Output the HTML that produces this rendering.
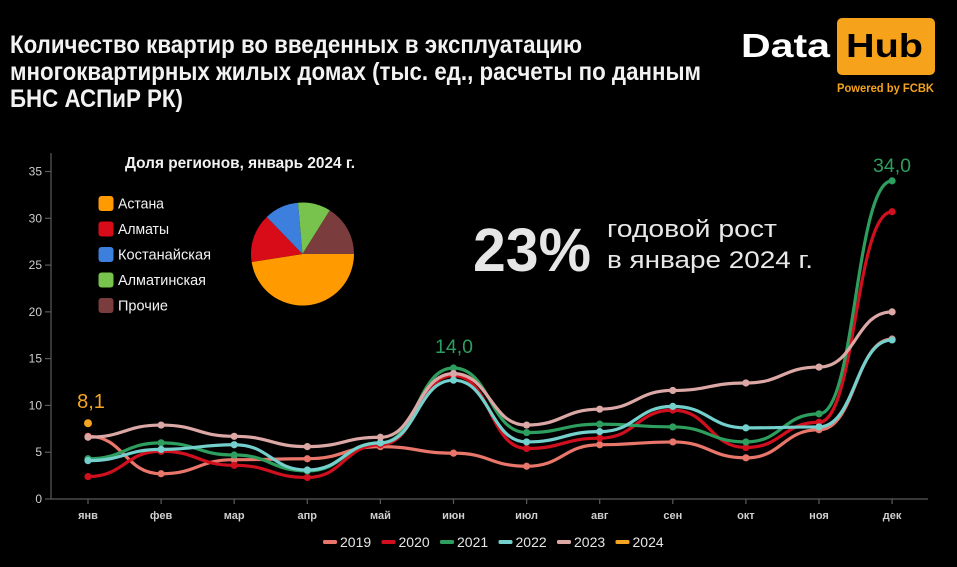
<!DOCTYPE html>
<html>
<head>
<meta charset="utf-8">
<style>
html,body{margin:0;padding:0;background:#000;}
svg{display:block;}
text{font-family:"Liberation Sans","DejaVu Sans",sans-serif;}
</style>
</head>
<body>
<svg id="c" width="957" height="567" viewBox="0 0 957 567" xmlns="http://www.w3.org/2000/svg">
<rect width="957" height="567" fill="#000"/>

<!-- Title -->
<g fill="#f2f2f2" font-weight="bold" font-size="25">
<text x="10" y="53" textLength="572" lengthAdjust="spacingAndGlyphs">Количество квартир во введенных в эксплуатацию</text>
<text x="10" y="80" textLength="691" lengthAdjust="spacingAndGlyphs">многоквартирных жилых домах (тыс. ед., расчеты по данным</text>
<text x="10" y="107" textLength="173" lengthAdjust="spacingAndGlyphs">БНС АСПиР РК)</text>
</g>

<!-- Logo -->
<text x="741" y="57" font-size="33" font-weight="bold" fill="#fff" textLength="89" lengthAdjust="spacingAndGlyphs">Data</text>
<rect x="837" y="18" width="98" height="57" rx="5" fill="#f7a21b"/>
<text x="846" y="57" font-size="33" font-weight="bold" fill="#000" textLength="77" lengthAdjust="spacingAndGlyphs">Hub</text>
<text x="837" y="92" font-size="11.5" font-weight="bold" fill="#f4a31d" textLength="97" lengthAdjust="spacingAndGlyphs">Powered by FCBK</text>

<!-- Axes -->
<g stroke="#5a5a5a" stroke-width="1.2" fill="none">
<line x1="51" y1="153" x2="51" y2="499"/>
<line x1="51" y1="499" x2="928" y2="499"/>
<g id="yticks"></g>
<g id="xticks"></g>
</g>

<!-- Y labels -->
<g fill="#cfcfcf" font-size="12" text-anchor="end">
<text x="42" y="503">0</text>
<text x="42" y="456.2">5</text>
<text x="42" y="409.4">10</text>
<text x="42" y="362.6">15</text>
<text x="42" y="315.9">20</text>
<text x="42" y="269.1">25</text>
<text x="42" y="222.3">30</text>
<text x="42" y="175.5">35</text>
</g>

<!-- X labels -->
<g fill="#cfcfcf" font-size="11" font-weight="bold" text-anchor="middle">
<text x="88" y="519">янв</text>
<text x="161.1" y="519">фев</text>
<text x="234.2" y="519">мар</text>
<text x="307.3" y="519">апр</text>
<text x="380.4" y="519">май</text>
<text x="453.5" y="519">июн</text>
<text x="526.6" y="519">июл</text>
<text x="599.7" y="519">авг</text>
<text x="672.8" y="519">сен</text>
<text x="745.9" y="519">окт</text>
<text x="819" y="519">ноя</text>
<text x="892.1" y="519">дек</text>
</g>

<!-- Pie chart block -->
<text x="125" y="168" font-size="16" font-weight="bold" fill="#f2f2f2" textLength="230" lengthAdjust="spacingAndGlyphs">Доля регионов, январь 2024 г.</text>
<g>
<rect x="98.5" y="196" width="15" height="15" rx="3" fill="#ff9a00"/>
<rect x="98.5" y="221.5" width="15" height="15" rx="3" fill="#d80c18"/>
<rect x="98.5" y="247" width="15" height="15" rx="3" fill="#3d7fdc"/>
<rect x="98.5" y="272.5" width="15" height="15" rx="3" fill="#78c24e"/>
<rect x="98.5" y="298" width="15" height="15" rx="3" fill="#7a3c3c"/>
</g>
<g fill="#f2f2f2" font-size="14.5">
<text x="118" y="208.5" textLength="46" lengthAdjust="spacingAndGlyphs">Астана</text>
<text x="118" y="234" textLength="51" lengthAdjust="spacingAndGlyphs">Алматы</text>
<text x="118" y="259.5" textLength="93" lengthAdjust="spacingAndGlyphs">Костанайская</text>
<text x="118" y="285" textLength="88" lengthAdjust="spacingAndGlyphs">Алматинская</text>
<text x="118" y="310.5" textLength="50" lengthAdjust="spacingAndGlyphs">Прочие</text>
</g>
<g>
<path d="M302.5,254 L354,254 A51.5,51.5 0 0 1 251.63,262.05 Z" fill="#ff9a00"/>
<path d="M302.5,254 L251.63,262.05 A51.5,51.5 0 0 1 266.72,216.96 Z" fill="#d80c18"/>
<path d="M302.5,254 L266.72,216.96 A51.5,51.5 0 0 1 298.01,202.70 Z" fill="#3d7fdc"/>
<path d="M302.5,254 L298.01,202.70 A51.5,51.5 0 0 1 329.79,210.33 Z" fill="#78c24e"/>
<path d="M302.5,254 L329.79,210.33 A51.5,51.5 0 0 1 354,254 Z" fill="#7a3c3c"/>
</g>

<!-- Big stat -->
<text x="473" y="271" font-size="61" font-weight="bold" fill="#e6e6e6" textLength="118" lengthAdjust="spacingAndGlyphs">23%</text>
<text x="607" y="237" font-size="24" fill="#e8e8e8" textLength="170" lengthAdjust="spacingAndGlyphs">годовой рост</text>
<text x="607" y="268" font-size="24" fill="#e8e8e8" textLength="206" lengthAdjust="spacingAndGlyphs">в январе 2024 г.</text>

<!-- Series -->
<g id="series" fill="none" stroke-width="3.2" stroke-linecap="round" stroke-linejoin="round"></g>

<!-- Value labels -->
<text x="91" y="408" font-size="20" fill="#f5a522" text-anchor="middle">8,1</text>
<text x="454" y="353" font-size="19.5" fill="#2e9e5e" text-anchor="middle">14,0</text>
<text x="892" y="172" font-size="19.5" fill="#2e9e5e" text-anchor="middle">34,0</text>

<!-- Legend -->
<g>
<rect x="323" y="540" width="14" height="4" rx="1.5" fill="#e8766a"/>
<rect x="381.5" y="540" width="14" height="4" rx="1.5" fill="#d0101e"/>
<rect x="440" y="540" width="14" height="4" rx="1.5" fill="#2e9e5e"/>
<rect x="498.5" y="540" width="14" height="4" rx="1.5" fill="#73d0cc"/>
<rect x="557" y="540" width="14" height="4" rx="1.5" fill="#dba8a6"/>
<rect x="615.5" y="540" width="14" height="4" rx="1.5" fill="#f5a522"/>
</g>
<g fill="#e6e6e6" font-size="14">
<text x="340" y="547">2019</text>
<text x="398.5" y="547">2020</text>
<text x="457" y="547">2021</text>
<text x="515.5" y="547">2022</text>
<text x="574" y="547">2023</text>
<text x="632.5" y="547">2024</text>
</g>
</svg>
<script>
(function(){
var NS="http://www.w3.org/2000/svg";
function X(i){return 88+73.1*i;}
function Y(v){return 499-v*9.357;}
var yt=document.getElementById("yticks");
for(var k=0;k<=35;k+=5){var l=document.createElementNS(NS,"line");l.setAttribute("x1",45);l.setAttribute("x2",51);l.setAttribute("y1",Y(k));l.setAttribute("y2",Y(k));yt.appendChild(l);}
var xt=document.getElementById("xticks");
for(var i=0;i<12;i++){var l2=document.createElementNS(NS,"line");l2.setAttribute("x1",X(i));l2.setAttribute("x2",X(i));l2.setAttribute("y1",499);l2.setAttribute("y2",504);xt.appendChild(l2);}
var S=[
["#e8766a",[6.7,2.7,4.2,4.3,5.6,4.9,3.5,5.8,6.1,4.4,7.4,17.1]],
["#d0101e",[2.4,5.1,3.6,2.3,5.8,13.2,5.4,6.5,9.5,5.5,8.2,30.7]],
["#2e9e5e",[4.3,6.0,4.7,3.0,6.0,14.0,7.1,8.0,7.7,6.1,9.1,34.0]],
["#73d0cc",[4.1,5.3,5.8,3.1,6.0,12.7,6.1,7.2,9.9,7.6,7.7,17.0]],
["#dba8a6",[6.6,7.9,6.7,5.6,6.6,13.4,7.9,9.6,11.6,12.4,14.1,20.0]],
["#f5a522",[8.1]]
];
var g=document.getElementById("series");
S.forEach(function(s){
  var c=s[0],d=s[1];
  if(d.length>1){
    var p="M"+X(0)+","+Y(d[0]);
    for(var i=1;i<d.length;i++){
      var xm=(X(i-1)+X(i))/2;
      p+=" C"+xm+","+Y(d[i-1])+" "+xm+","+Y(d[i])+" "+X(i)+","+Y(d[i]);
    }
    var path=document.createElementNS(NS,"path");
    path.setAttribute("d",p);path.setAttribute("stroke",c);
    g.appendChild(path);
  }
  for(var j=0;j<d.length;j++){
    var ci=document.createElementNS(NS,"circle");
    ci.setAttribute("cx",X(j));ci.setAttribute("cy",Y(d[j]));ci.setAttribute("r",d.length>1?3.6:4);
    ci.setAttribute("fill",c);ci.setAttribute("stroke","none");
    g.appendChild(ci);
  }
});
})();
</script>
</body>
</html>
